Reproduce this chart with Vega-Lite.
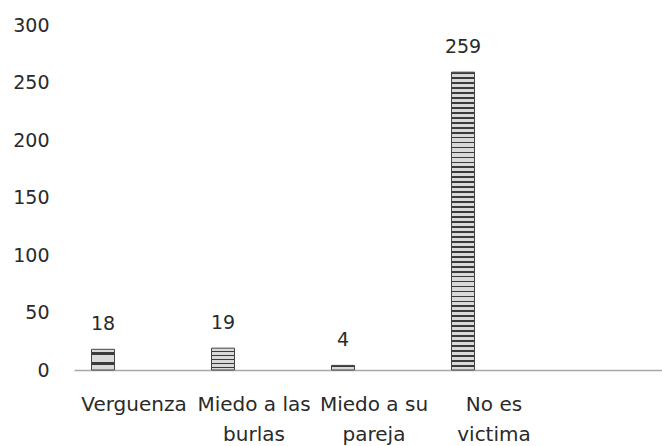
{
  "$schema": "https://vega.github.io/schema/vega-lite/v6.json",
  "width": 588,
  "height": 345,
  "autosize": "none",
  "padding": {"left": 74, "top": 25, "right": 0, "bottom": 76},
  "background": "white",
  "config": {"view": {"stroke": null}, "font": "DejaVu Sans"},
  "data": {
    "values": [
      {"categoria": "Verguenza", "n": 18},
      {"categoria": "Miedo a las burlas", "n": 19},
      {"categoria": "Miedo a su pareja", "n": 4},
      {"categoria": "No es victima", "n": 259}
    ]
  },
  "encoding": {
    "x": {
      "field": "categoria",
      "type": "nominal",
      "sort": null,
      "scale": {"paddingInner": 0, "paddingOuter": 0.45, "align": 0},
      "axis": {
        "title": null,
        "labelAngle": 0,
        "ticks": false,
        "domainColor": "#a8a8a8",
        "domainWidth": 1.5,
        "labelFont": "DejaVu Sans",
        "labelFontSize": 20,
        "labelColor": "#2a2a2a",
        "labelPadding": 24,
        "labelLineHeight": 30,
        "labelLimit": 200,
        "labelExpr": "datum.value == 'Miedo a las burlas' ? ['Miedo a las', 'burlas'] : datum.value == 'Miedo a su pareja' ? ['Miedo a su', 'pareja'] : datum.value == 'No es victima' ? ['No es', 'victima'] : datum.value"
      }
    },
    "y": {
      "field": "n",
      "type": "quantitative",
      "scale": {"domain": [0, 300], "nice": false},
      "axis": {
        "title": null,
        "values": [0, 50, 100, 150, 200, 250, 300],
        "grid": false,
        "domain": false,
        "ticks": false,
        "labelFont": "DejaVu Sans",
        "labelFontSize": 19,
        "labelColor": "#2a2a2a",
        "labelPadding": 25
      }
    }
  },
  "layer": [
    {
      "mark": {
        "type": "bar",
        "width": 23,
        "xOffset": -31,
        "stroke": "#444444",
        "strokeWidth": 1,
        "color": {
          "gradient": "linear",
          "x1": 0, "y1": 0, "x2": 0, "y2": 1,
          "stops": [
            {"offset": 0, "color": "#3a3a3a"}, {"offset": 0.006, "color": "#3a3a3a"}, {"offset": 0.006, "color": "#d9d9d9"}, {"offset": 0.0167, "color": "#d9d9d9"},
            {"offset": 0.0167, "color": "#3a3a3a"}, {"offset": 0.0227, "color": "#3a3a3a"}, {"offset": 0.0227, "color": "#d9d9d9"}, {"offset": 0.0333, "color": "#d9d9d9"},
            {"offset": 0.0333, "color": "#3a3a3a"}, {"offset": 0.0393, "color": "#3a3a3a"}, {"offset": 0.0393, "color": "#d9d9d9"}, {"offset": 0.05, "color": "#d9d9d9"},
            {"offset": 0.05, "color": "#3a3a3a"}, {"offset": 0.056, "color": "#3a3a3a"}, {"offset": 0.056, "color": "#d9d9d9"}, {"offset": 0.0667, "color": "#d9d9d9"},
            {"offset": 0.0667, "color": "#3a3a3a"}, {"offset": 0.0727, "color": "#3a3a3a"}, {"offset": 0.0727, "color": "#d9d9d9"}, {"offset": 0.0833, "color": "#d9d9d9"},
            {"offset": 0.0833, "color": "#3a3a3a"}, {"offset": 0.0893, "color": "#3a3a3a"}, {"offset": 0.0893, "color": "#d9d9d9"}, {"offset": 0.1, "color": "#d9d9d9"},
            {"offset": 0.1, "color": "#3a3a3a"}, {"offset": 0.106, "color": "#3a3a3a"}, {"offset": 0.106, "color": "#d9d9d9"}, {"offset": 0.1167, "color": "#d9d9d9"},
            {"offset": 0.1167, "color": "#3a3a3a"}, {"offset": 0.1227, "color": "#3a3a3a"}, {"offset": 0.1227, "color": "#d9d9d9"}, {"offset": 0.1333, "color": "#d9d9d9"},
            {"offset": 0.1333, "color": "#3a3a3a"}, {"offset": 0.1393, "color": "#3a3a3a"}, {"offset": 0.1393, "color": "#d9d9d9"}, {"offset": 0.15, "color": "#d9d9d9"},
            {"offset": 0.15, "color": "#3a3a3a"}, {"offset": 0.156, "color": "#3a3a3a"}, {"offset": 0.156, "color": "#d9d9d9"}, {"offset": 0.1667, "color": "#d9d9d9"},
            {"offset": 0.1667, "color": "#3a3a3a"}, {"offset": 0.1727, "color": "#3a3a3a"}, {"offset": 0.1727, "color": "#d9d9d9"}, {"offset": 0.1833, "color": "#d9d9d9"},
            {"offset": 0.1833, "color": "#3a3a3a"}, {"offset": 0.1893, "color": "#3a3a3a"}, {"offset": 0.1893, "color": "#d9d9d9"}, {"offset": 0.2, "color": "#d9d9d9"},
            {"offset": 0.2, "color": "#3a3a3a"}, {"offset": 0.206, "color": "#3a3a3a"}, {"offset": 0.206, "color": "#d9d9d9"}, {"offset": 0.2167, "color": "#d9d9d9"},
            {"offset": 0.2167, "color": "#3a3a3a"}, {"offset": 0.2227, "color": "#3a3a3a"}, {"offset": 0.2227, "color": "#d9d9d9"}, {"offset": 0.2333, "color": "#d9d9d9"},
            {"offset": 0.2333, "color": "#3a3a3a"}, {"offset": 0.2393, "color": "#3a3a3a"}, {"offset": 0.2393, "color": "#d9d9d9"}, {"offset": 0.25, "color": "#d9d9d9"},
            {"offset": 0.25, "color": "#3a3a3a"}, {"offset": 0.256, "color": "#3a3a3a"}, {"offset": 0.256, "color": "#d9d9d9"}, {"offset": 0.2667, "color": "#d9d9d9"},
            {"offset": 0.2667, "color": "#3a3a3a"}, {"offset": 0.2727, "color": "#3a3a3a"}, {"offset": 0.2727, "color": "#d9d9d9"}, {"offset": 0.2833, "color": "#d9d9d9"},
            {"offset": 0.2833, "color": "#3a3a3a"}, {"offset": 0.2893, "color": "#3a3a3a"}, {"offset": 0.2893, "color": "#d9d9d9"}, {"offset": 0.3, "color": "#d9d9d9"},
            {"offset": 0.3, "color": "#3a3a3a"}, {"offset": 0.306, "color": "#3a3a3a"}, {"offset": 0.306, "color": "#d9d9d9"}, {"offset": 0.3167, "color": "#d9d9d9"},
            {"offset": 0.3167, "color": "#3a3a3a"}, {"offset": 0.3227, "color": "#3a3a3a"}, {"offset": 0.3227, "color": "#d9d9d9"}, {"offset": 0.3333, "color": "#d9d9d9"},
            {"offset": 0.3333, "color": "#3a3a3a"}, {"offset": 0.3393, "color": "#3a3a3a"}, {"offset": 0.3393, "color": "#d9d9d9"}, {"offset": 0.35, "color": "#d9d9d9"},
            {"offset": 0.35, "color": "#3a3a3a"}, {"offset": 0.356, "color": "#3a3a3a"}, {"offset": 0.356, "color": "#d9d9d9"}, {"offset": 0.3667, "color": "#d9d9d9"},
            {"offset": 0.3667, "color": "#3a3a3a"}, {"offset": 0.3727, "color": "#3a3a3a"}, {"offset": 0.3727, "color": "#d9d9d9"}, {"offset": 0.3833, "color": "#d9d9d9"},
            {"offset": 0.3833, "color": "#3a3a3a"}, {"offset": 0.3893, "color": "#3a3a3a"}, {"offset": 0.3893, "color": "#d9d9d9"}, {"offset": 0.4, "color": "#d9d9d9"},
            {"offset": 0.4, "color": "#3a3a3a"}, {"offset": 0.406, "color": "#3a3a3a"}, {"offset": 0.406, "color": "#d9d9d9"}, {"offset": 0.4167, "color": "#d9d9d9"},
            {"offset": 0.4167, "color": "#3a3a3a"}, {"offset": 0.4227, "color": "#3a3a3a"}, {"offset": 0.4227, "color": "#d9d9d9"}, {"offset": 0.4333, "color": "#d9d9d9"},
            {"offset": 0.4333, "color": "#3a3a3a"}, {"offset": 0.4393, "color": "#3a3a3a"}, {"offset": 0.4393, "color": "#d9d9d9"}, {"offset": 0.45, "color": "#d9d9d9"},
            {"offset": 0.45, "color": "#3a3a3a"}, {"offset": 0.456, "color": "#3a3a3a"}, {"offset": 0.456, "color": "#d9d9d9"}, {"offset": 0.4667, "color": "#d9d9d9"},
            {"offset": 0.4667, "color": "#3a3a3a"}, {"offset": 0.4727, "color": "#3a3a3a"}, {"offset": 0.4727, "color": "#d9d9d9"}, {"offset": 0.4833, "color": "#d9d9d9"},
            {"offset": 0.4833, "color": "#3a3a3a"}, {"offset": 0.4893, "color": "#3a3a3a"}, {"offset": 0.4893, "color": "#d9d9d9"}, {"offset": 0.5, "color": "#d9d9d9"},
            {"offset": 0.5, "color": "#3a3a3a"}, {"offset": 0.506, "color": "#3a3a3a"}, {"offset": 0.506, "color": "#d9d9d9"}, {"offset": 0.5167, "color": "#d9d9d9"},
            {"offset": 0.5167, "color": "#3a3a3a"}, {"offset": 0.5227, "color": "#3a3a3a"}, {"offset": 0.5227, "color": "#d9d9d9"}, {"offset": 0.5333, "color": "#d9d9d9"},
            {"offset": 0.5333, "color": "#3a3a3a"}, {"offset": 0.5393, "color": "#3a3a3a"}, {"offset": 0.5393, "color": "#d9d9d9"}, {"offset": 0.55, "color": "#d9d9d9"},
            {"offset": 0.55, "color": "#3a3a3a"}, {"offset": 0.556, "color": "#3a3a3a"}, {"offset": 0.556, "color": "#d9d9d9"}, {"offset": 0.5667, "color": "#d9d9d9"},
            {"offset": 0.5667, "color": "#3a3a3a"}, {"offset": 0.5727, "color": "#3a3a3a"}, {"offset": 0.5727, "color": "#d9d9d9"}, {"offset": 0.5833, "color": "#d9d9d9"},
            {"offset": 0.5833, "color": "#3a3a3a"}, {"offset": 0.5893, "color": "#3a3a3a"}, {"offset": 0.5893, "color": "#d9d9d9"}, {"offset": 0.6, "color": "#d9d9d9"},
            {"offset": 0.6, "color": "#3a3a3a"}, {"offset": 0.606, "color": "#3a3a3a"}, {"offset": 0.606, "color": "#d9d9d9"}, {"offset": 0.6167, "color": "#d9d9d9"},
            {"offset": 0.6167, "color": "#3a3a3a"}, {"offset": 0.6227, "color": "#3a3a3a"}, {"offset": 0.6227, "color": "#d9d9d9"}, {"offset": 0.6333, "color": "#d9d9d9"},
            {"offset": 0.6333, "color": "#3a3a3a"}, {"offset": 0.6393, "color": "#3a3a3a"}, {"offset": 0.6393, "color": "#d9d9d9"}, {"offset": 0.65, "color": "#d9d9d9"},
            {"offset": 0.65, "color": "#3a3a3a"}, {"offset": 0.656, "color": "#3a3a3a"}, {"offset": 0.656, "color": "#d9d9d9"}, {"offset": 0.6667, "color": "#d9d9d9"},
            {"offset": 0.6667, "color": "#3a3a3a"}, {"offset": 0.6727, "color": "#3a3a3a"}, {"offset": 0.6727, "color": "#d9d9d9"}, {"offset": 0.6833, "color": "#d9d9d9"},
            {"offset": 0.6833, "color": "#3a3a3a"}, {"offset": 0.6893, "color": "#3a3a3a"}, {"offset": 0.6893, "color": "#d9d9d9"}, {"offset": 0.7, "color": "#d9d9d9"},
            {"offset": 0.7, "color": "#3a3a3a"}, {"offset": 0.706, "color": "#3a3a3a"}, {"offset": 0.706, "color": "#d9d9d9"}, {"offset": 0.7167, "color": "#d9d9d9"},
            {"offset": 0.7167, "color": "#3a3a3a"}, {"offset": 0.7227, "color": "#3a3a3a"}, {"offset": 0.7227, "color": "#d9d9d9"}, {"offset": 0.7333, "color": "#d9d9d9"},
            {"offset": 0.7333, "color": "#3a3a3a"}, {"offset": 0.7393, "color": "#3a3a3a"}, {"offset": 0.7393, "color": "#d9d9d9"}, {"offset": 0.75, "color": "#d9d9d9"},
            {"offset": 0.75, "color": "#3a3a3a"}, {"offset": 0.756, "color": "#3a3a3a"}, {"offset": 0.756, "color": "#d9d9d9"}, {"offset": 0.7667, "color": "#d9d9d9"},
            {"offset": 0.7667, "color": "#3a3a3a"}, {"offset": 0.7727, "color": "#3a3a3a"}, {"offset": 0.7727, "color": "#d9d9d9"}, {"offset": 0.7833, "color": "#d9d9d9"},
            {"offset": 0.7833, "color": "#3a3a3a"}, {"offset": 0.7893, "color": "#3a3a3a"}, {"offset": 0.7893, "color": "#d9d9d9"}, {"offset": 0.8, "color": "#d9d9d9"},
            {"offset": 0.8, "color": "#3a3a3a"}, {"offset": 0.806, "color": "#3a3a3a"}, {"offset": 0.806, "color": "#d9d9d9"}, {"offset": 0.8167, "color": "#d9d9d9"},
            {"offset": 0.8167, "color": "#3a3a3a"}, {"offset": 0.8227, "color": "#3a3a3a"}, {"offset": 0.8227, "color": "#d9d9d9"}, {"offset": 0.8333, "color": "#d9d9d9"},
            {"offset": 0.8333, "color": "#3a3a3a"}, {"offset": 0.8393, "color": "#3a3a3a"}, {"offset": 0.8393, "color": "#d9d9d9"}, {"offset": 0.85, "color": "#d9d9d9"},
            {"offset": 0.85, "color": "#3a3a3a"}, {"offset": 0.856, "color": "#3a3a3a"}, {"offset": 0.856, "color": "#d9d9d9"}, {"offset": 0.8667, "color": "#d9d9d9"},
            {"offset": 0.8667, "color": "#3a3a3a"}, {"offset": 0.8727, "color": "#3a3a3a"}, {"offset": 0.8727, "color": "#d9d9d9"}, {"offset": 0.8833, "color": "#d9d9d9"},
            {"offset": 0.8833, "color": "#3a3a3a"}, {"offset": 0.8893, "color": "#3a3a3a"}, {"offset": 0.8893, "color": "#d9d9d9"}, {"offset": 0.9, "color": "#d9d9d9"},
            {"offset": 0.9, "color": "#3a3a3a"}, {"offset": 0.906, "color": "#3a3a3a"}, {"offset": 0.906, "color": "#d9d9d9"}, {"offset": 0.9167, "color": "#d9d9d9"},
            {"offset": 0.9167, "color": "#3a3a3a"}, {"offset": 0.9227, "color": "#3a3a3a"}, {"offset": 0.9227, "color": "#d9d9d9"}, {"offset": 0.9333, "color": "#d9d9d9"},
            {"offset": 0.9333, "color": "#3a3a3a"}, {"offset": 0.9393, "color": "#3a3a3a"}, {"offset": 0.9393, "color": "#d9d9d9"}, {"offset": 0.95, "color": "#d9d9d9"},
            {"offset": 0.95, "color": "#3a3a3a"}, {"offset": 0.956, "color": "#3a3a3a"}, {"offset": 0.956, "color": "#d9d9d9"}, {"offset": 0.9667, "color": "#d9d9d9"},
            {"offset": 0.9667, "color": "#3a3a3a"}, {"offset": 0.9727, "color": "#3a3a3a"}, {"offset": 0.9727, "color": "#d9d9d9"}, {"offset": 0.9833, "color": "#d9d9d9"},
            {"offset": 0.9833, "color": "#3a3a3a"}, {"offset": 0.9893, "color": "#3a3a3a"}, {"offset": 0.9893, "color": "#d9d9d9"}, {"offset": 1, "color": "#d9d9d9"}
          ]
        }
      }
    },
    {
      "mark": {
        "type": "text",
        "xOffset": -31,
        "baseline": "alphabetic",
        "dy": -19,
        "font": "DejaVu Sans",
        "fontSize": 19,
        "color": "#2a2a2a"
      },
      "encoding": {"text": {"field": "n", "type": "quantitative"}}
    }
  ]
}
